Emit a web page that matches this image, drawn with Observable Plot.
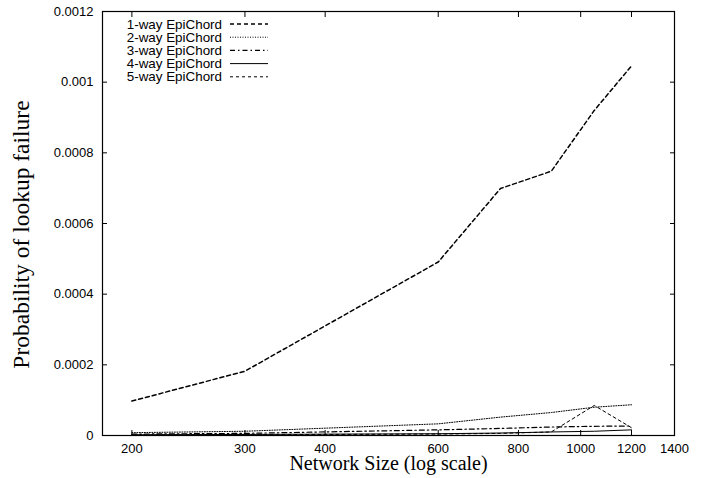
<!DOCTYPE html>
<html>
<head>
<meta charset="utf-8">
<script src="https://cdn.jsdelivr.net/npm/d3@7"></script>
<script src="https://cdn.jsdelivr.net/npm/@observablehq/plot@0.6"></script>
<style>
  body { margin: 0; background: #fff; }
</style>
</head>
<body>
<div id="chart"></div>
<script>
// Network sizes at which lookups were simulated
const networkSizes = [200, 300, 600, 750, 900, 1050, 1200];

// Probability of lookup failure per EpiChord variant
const oneWay   = [0.0000975, 0.000182, 0.000491, 0.000699, 0.000748, 0.00092, 0.001046];
const twoWay   = [0.000008, 0.000012, 0.000033, 0.000052, 0.000065, 0.00008, 0.000087];
const threeWay = [0.000004, 0.000006, 0.000016, 0.00002, 0.000024, 0.000026, 0.000027];
const fourWay  = [0.000002, 0.000003, 0.000005, 0.000007, 0.00001, 0.000012, 0.000016];
const fiveWay  = [0.000001, 0.000002, 0.000004, 0.000006, 0.00001, 0.000085, 0.000022];

const seriesNames = ["1-way EpiChord", "2-way EpiChord", "3-way EpiChord", "4-way EpiChord", "5-way EpiChord"];
const seriesValues = [oneWay, twoWay, threeWay, fourWay, fiveWay];

const xTicks = [200, 300, 400, 600, 800, 1000, 1200, 1400];
const yTicks = [0, 0.0002, 0.0004, 0.0006, 0.0008, 0.001, 0.0012];

// Line styles per series
const dashes = ["4,3", "1,1.5", "5,3,1.5,3", null, "3,3"];
const widths = [1.5, 1, 1.2, 1, 1];

const rows = seriesNames.flatMap((name, i) =>
  networkSizes.map((size, j) => ({name, size, p: seriesValues[i][j]}))
);

const yFormat = d => String(+d.toFixed(4));
const sans = "'Liberation Sans', Arial, Helvetica, sans-serif";
const serif = "'Liberation Serif', 'Times New Roman', serif";

const chart = Plot.plot({
  width: 705,
  height: 478,
  marginLeft: 102,
  marginRight: 31,
  marginTop: 11,
  marginBottom: 43,
  style: {fontFamily: sans, fontSize: "13px", color: "black", background: "white"},
  x: {type: "log", domain: [180, 1400]},
  y: {domain: [0, 0.0012]},
  marks: [
    Plot.axisX({ticks: xTicks, tickFormat: d => String(d), tickSize: -5, tickPadding: 13, label: null}),
    Plot.axisX({anchor: "top", ticks: xTicks, tickFormat: () => "", tickSize: -5, label: null}),
    Plot.axisY({ticks: yTicks, tickFormat: yFormat, tickSize: -5, tickPadding: 14, label: null}),
    Plot.axisY({anchor: "right", ticks: yTicks, tickFormat: () => "", tickSize: -5, label: null}),
    ...seriesNames.map((name, i) =>
      Plot.line(rows.filter(r => r.name === name), {
        x: "size",
        y: "p",
        stroke: "black",
        strokeWidth: widths[i],
        strokeDasharray: dashes[i]
      })
    ),
    Plot.frame({stroke: "black", strokeWidth: 1.2}),
    Plot.text(["Network Size (log scale)"], {
      text: d => d, frameAnchor: "bottom", dy: 34,
      fontFamily: serif, fontSize: 20, fill: "black"
    }),
    Plot.text(["Probability of lookup failure"], {
      text: d => d, frameAnchor: "left", textAnchor: "middle", rotate: -90, dx: -81, dy: 11,
      fontFamily: serif, fontSize: 23.5, fill: "black"
    })
  ]
});

// Key in the top-left corner of the plot area
const svg = d3.select(chart);
const key = svg.append("g").attr("font-family", sans).attr("font-size", 13.4);
seriesNames.forEach((name, i) => {
  const y = 24 + 13.2 * i;
  key.append("text")
    .attr("x", 222).attr("y", y).attr("dy", "0.35em")
    .attr("text-anchor", "end").attr("fill", "black")
    .text(name);
  key.append("line")
    .attr("x1", 230).attr("x2", 268).attr("y1", y).attr("y2", y)
    .attr("stroke", "black")
    .attr("stroke-width", widths[i])
    .attr("stroke-dasharray", dashes[i]);
});

document.getElementById("chart").append(chart);
</script>
</body>
</html>
